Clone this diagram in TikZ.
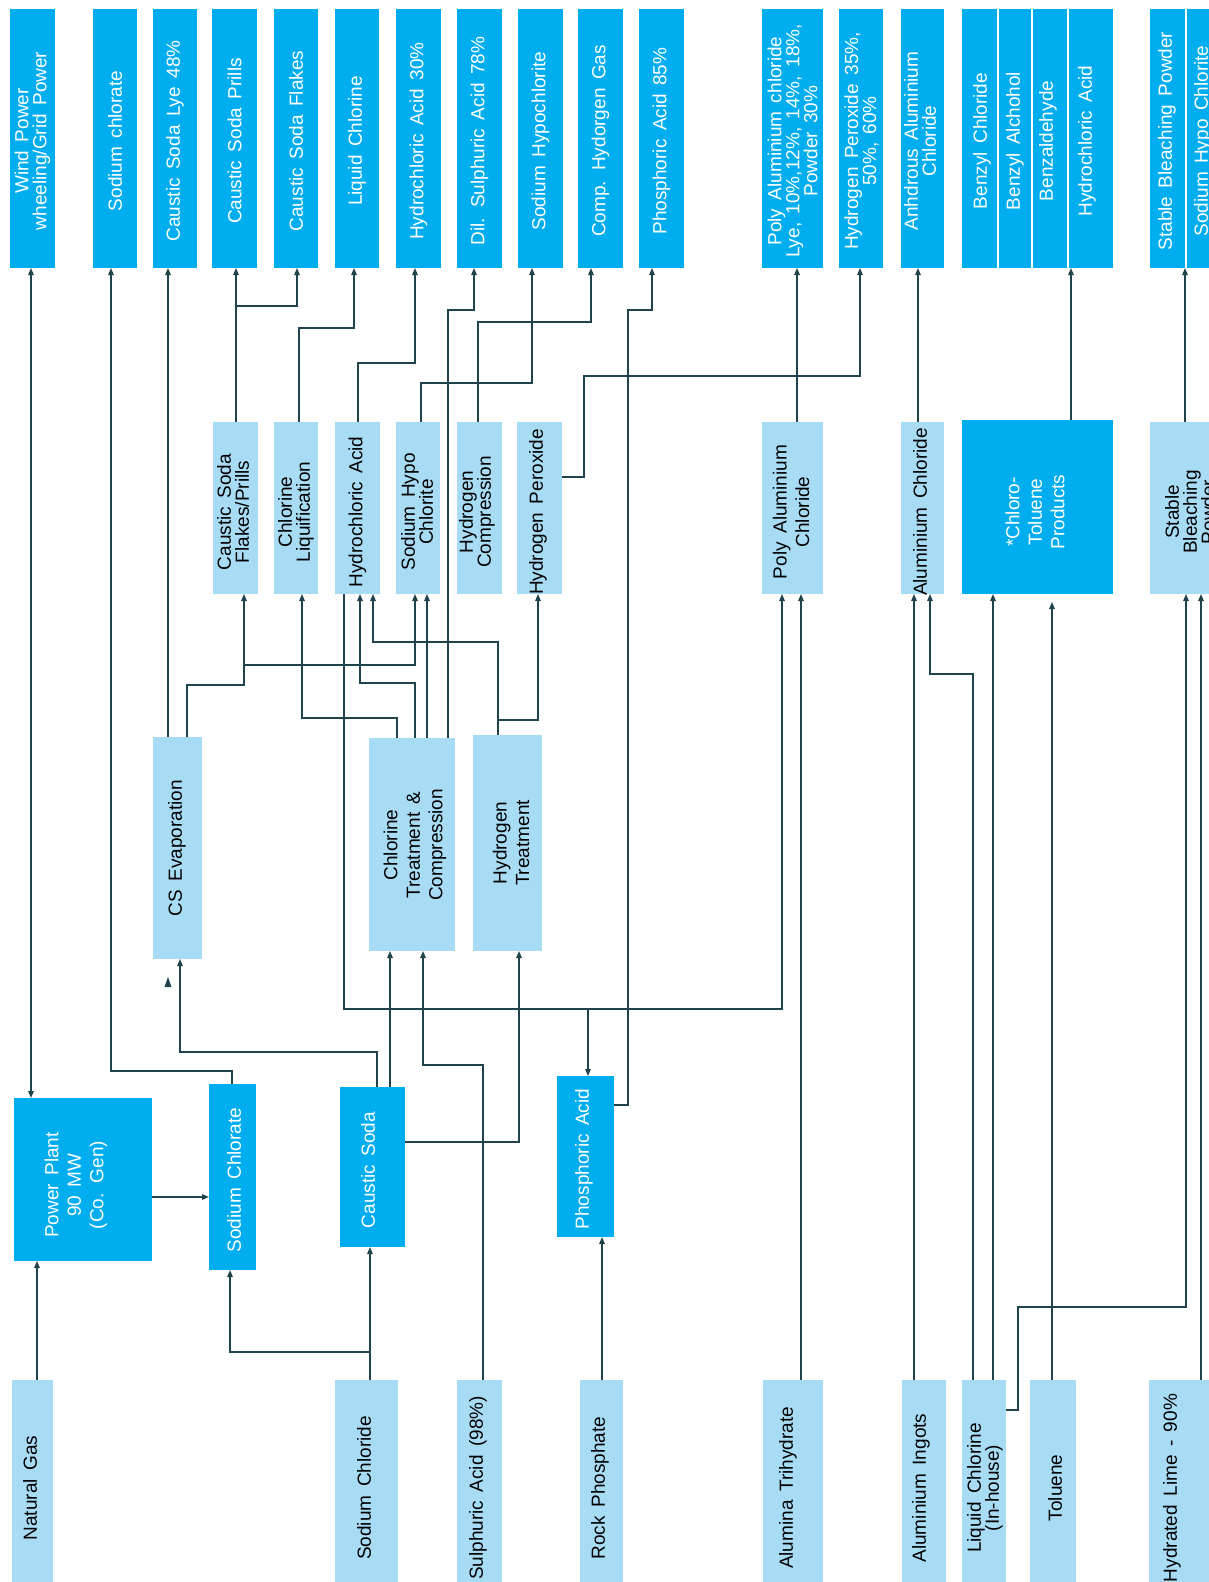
\documentclass[tikz,border=0pt]{standalone}
\usepackage{fontspec}
\setmainfont{Liberation Sans}[WordSpace=1.6]
\usetikzlibrary{arrows.meta,fit,calc}
\definecolor{dblue}{RGB}{0,174,239}
\definecolor{lblue}{RGB}{168,220,245}
\definecolor{linec}{RGB}{32,68,78}
\tikzset{
 box/.style={inner sep=0pt, outer sep=0pt, draw=none},
 dbox/.style={box, fill=dblue},
 lbox/.style={box, fill=lblue},
 wtxt/.style={rotate=90, text=white, align=center, font=\fontsize{19}{18}\selectfont, inner sep=0pt},
 btxt/.style={rotate=90, text=black, align=center, font=\fontsize{19}{18}\selectfont, inner sep=0pt},
 loose/.style={font=\fontsize{19}{22.5}\selectfont},
 conn/.style={draw=linec, line width=1.4pt},
 arr/.style={conn, -{Triangle[length=7pt,width=5.5pt]}},
 darr/.style={conn, {Triangle[length=7pt,width=5.5pt]}-{Triangle[length=7pt,width=5.5pt]}},
}
\newcommand\BX[9]{\node[#2, fit={(#3,#4) (#5,#6)}] (#1) {};\node[#7] at (#8) {#9};}
\begin{document}
\begin{tikzpicture}[x=1pt,y=-1pt]
\clip (0,0) rectangle (1209,1582);
\fill[white] (0,0) rectangle (1209,1582);
% top row
\BX{tWind}{dbox}{10}{9}{55}{268}{wtxt}{32.5,141}{Wind Power\\wheeling/Grid Power}
\BX{tNaClO}{dbox}{93}{9}{137}{268}{wtxt}{115,141}{Sodium chlorate}
\BX{tLye}{dbox}{153}{9}{197}{268}{wtxt}{175,141}{Caustic Soda Lye 48\%}
\BX{tPrl}{dbox}{212}{9}{257}{268}{wtxt}{234.5,141}{Caustic Soda Prills}
\BX{tFlk}{dbox}{274}{9}{318}{268}{wtxt}{296,141}{Caustic Soda Flakes}
\BX{tLCl}{dbox}{335}{9}{379}{268}{wtxt}{357,141}{Liquid Chlorine}
\BX{tHCl}{dbox}{396}{9}{441}{268}{wtxt}{418.5,141}{Hydrochloric Acid 30\%}
\BX{tDSA}{dbox}{457}{9}{502}{268}{wtxt}{479.5,141}{Dil. Sulphuric Acid 78\%}
\BX{tSHC}{dbox}{518}{9}{563}{268}{wtxt}{540.5,141}{Sodium Hypochlorite}
\BX{tCHG}{dbox}{578}{9}{623}{268}{wtxt}{600.5,141}{Comp. Hydorgen Gas}
\BX{tPA}{dbox}{639}{9}{684}{268}{wtxt}{661.5,141}{Phosphoric Acid 85\%}
\BX{tPAC}{dbox}{762}{9}{823}{268}{wtxt}{792.5,141}{Poly Aluminium chloride\\Lye, 10\%,12\%, 14\%, 18\%,\\Powder 30\%}
\BX{tHP}{dbox}{839}{9}{883}{268}{wtxt}{861.5,141}{Hydrogen Peroxide 35\%,\\50\%, 60\%}
\BX{tAAC}{dbox}{901}{9}{944}{268}{wtxt}{920,141}{Anhdrous Aluminium\\Chloride}
\BX{tBC}{dbox}{962}{9}{998}{268}{wtxt}{982,141}{Benzyl Chloride}
\BX{tBA}{dbox}{998}{9}{1032}{268}{wtxt}{1015,141}{Benzyl Alchohol}
\BX{tBZ}{dbox}{1032}{9}{1068}{268}{wtxt}{1048,141}{Benzaldehyde}
\BX{tHA}{dbox}{1068}{9}{1113}{268}{wtxt}{1087,141}{Hydrochloric Acid}
\BX{tSBP}{dbox}{1150}{9}{1186}{268}{wtxt}{1167,141}{Stable Bleaching Powder}
\BX{tSHY}{dbox}{1186}{9}{1222}{268}{wtxt}{1203,141}{Sodium Hypo Chlorite}
\foreach \xx in {998,1032,1068,1186} \draw[white, line width=1.5pt] (\xx,9) -- (\xx,268);
% middle row A
\BX{mFP}{lbox}{213}{422}{258}{594}{btxt}{233,512}{Caustic Soda\\Flakes/Prills}
\BX{mCLq}{lbox}{274}{422}{318}{594}{btxt}{296,512}{Chlorine\\Liquification}
\BX{mHCl}{lbox}{335}{422}{380}{594}{btxt}{357.5,512}{Hydrochloric Acid}
\BX{mSHC}{lbox}{396}{422}{440}{594}{btxt}{417,512}{Sodium Hypo\\Chlorite}
\BX{mH2C}{lbox}{457}{422}{502}{594}{btxt}{477,512}{Hydrogen\\Compression}
\BX{mHP}{lbox}{517}{422}{562}{594}{btxt}{538,512}{Hydrogen Peroxide}
\BX{mPAC}{lbox}{762}{422}{823}{594}{btxt,loose}{791,512}{Poly Aluminium\\Chloride}
\BX{mAC}{lbox}{901}{422}{944}{594}{btxt}{920,512}{Aluminium Chloride}
\BX{mCT}{dbox}{962}{420}{1113}{594}{wtxt,loose}{1035,512}{*Chloro-\\Toluene\\Products}
\BX{mSBP}{lbox}{1150}{422}{1232}{594}{btxt}{1190,512}{Stable\\Bleaching\\Powder}
% middle row B
\BX{mCSE}{lbox}{153}{737}{202}{959}{btxt}{177,848}{CS Evaporation}
\BX{mCTC}{lbox}{369}{738}{455}{951}{btxt,loose}{415,845}{Chlorine\\Treatment \&\\Compression}
\BX{mHT}{lbox}{473}{735}{542}{951}{btxt,loose}{511,843}{Hydrogen\\Treatment}
% third row
\BX{dPP}{dbox}{14}{1098}{152}{1261}{wtxt,loose}{76,1185}{Power Plant\\90 MW\\(Co. Gen)}
\BX{dSC}{dbox}{209}{1084}{256}{1270}{wtxt}{234,1180}{Sodium Chlorate}
\BX{dCS}{dbox}{340}{1087}{405}{1247}{wtxt}{368,1170}{Caustic Soda}
\BX{dPA}{dbox}{557}{1076}{614}{1237}{wtxt}{584,1159}{Phosphoric Acid}
% bottom row
\BX{bNG}{lbox}{12}{1380}{53}{1600}{btxt}{30,1488}{Natural Gas}
\BX{bNaCl}{lbox}{335}{1380}{398}{1600}{btxt}{364,1488}{Sodium Chloride}
\BX{bSA}{lbox}{457}{1380}{502}{1600}{btxt}{478,1488}{Sulphuric Acid (98\%)}
\BX{bRP}{lbox}{580}{1380}{623}{1600}{btxt}{600,1488}{Rock Phosphate}
\BX{bAT}{lbox}{763}{1380}{823}{1600}{btxt}{788,1488}{Alumina Trihydrate}
\BX{bAI}{lbox}{902}{1380}{946}{1600}{btxt}{921,1488}{Aluminium Ingots}
\BX{bLC}{lbox}{962}{1380}{1006}{1600}{btxt}{985,1488}{Liquid Chlorine\\(In-house)}
\BX{bTol}{lbox}{1030}{1380}{1076}{1600}{btxt}{1055,1488}{Toluene}
\BX{bHL}{lbox}{1149}{1380}{1215}{1600}{btxt}{1172,1488}{Hydrated Lime - 90\%}
% connectors
\draw[arr] (37,0 |- bNG.north) -- (37,0 |- dPP.south);
\draw[darr] (31,0 |- dPP.north) -- (31,0 |- tWind.south);
\draw[arr] (dPP.east |- 0,1197) -- (dSC.west |- 0,1197);
\draw[arr] (370,0 |- bNaCl.north) -- (370,1352) -- (230,1352) -- (230,0 |- dSC.south);
\draw[arr] (370,1352) -- (370,0 |- dCS.south);
\draw[arr] (232,0 |- dSC.north) -- (232,1071) -- (111,1071) -- (111,0 |- tNaClO.south);
\draw[arr] (377,0 |- dCS.north) -- (377,1052) -- (180,1052) -- (180,0 |- mCSE.south);
\fill[linec] (164.5,987) -- (171.5,987) -- (168,977) -- cycle;
\draw[arr] (168,0 |- mCSE.north) -- (168,0 |- tLye.south);
\draw[arr] (187,0 |- mCSE.north) -- (187,685) -- (244,685) -- (244,0 |- mFP.south);
\draw[arr] (244,665) -- (415,665) -- (415,0 |- mSHC.south);
\draw[arr] (236,0 |- mFP.north) -- (236,0 |- tPrl.south);
\draw[arr] (236,306) -- (297,306) -- (297,0 |- tFlk.south);
\draw[arr] (299,0 |- mCLq.north) -- (299,328) -- (354,328) -- (354,0 |- tLCl.south);
\draw[arr] (358,0 |- mHCl.north) -- (358,363) -- (415,363) -- (415,0 |- tHCl.south);
\draw[arr] (448,0 |- mCTC.north) -- (448,310) -- (474,310) -- (474,0 |- tDSA.south);
\draw[arr] (421,0 |- mSHC.north) -- (421,383) -- (532,383) -- (532,0 |- tSHC.south);
\draw[arr] (478,0 |- mH2C.north) -- (478,322) -- (591,322) -- (591,0 |- tCHG.south);
\draw[arr] (dPA.east |- 0,1105) -- (628,1105) -- (628,310) -- (652,310) -- (652,0 |- tPA.south);
\draw[arr] (mHP.east |- 0,477) -- (584,477) -- (584,376) -- (860,376) -- (860,0 |- tHP.south);
\draw[arr] (797,0 |- mPAC.north) -- (797,0 |- tPAC.south);
\draw[arr] (918,0 |- mAC.north) -- (918,0 |- tAAC.south);
\draw[arr] (1071,0 |- mCT.north) -- (1071,0 |- tHA.south);
\draw[arr] (1185,0 |- mSBP.north) -- (1185,0 |- tSBP.south);
\draw[arr] (390,0 |- dCS.north) -- (390,0 |- mCTC.south);
\draw[arr] (344,0 |- mHCl.south) -- (344,1009) -- (782,1009) -- (782,0 |- mPAC.south);
\draw[arr] (588,1009) -- (588,0 |- dPA.north);
\draw[arr] (dCS.east |- 0,1142) -- (519,1142) -- (519,0 |- mHT.south);
\draw[arr] (483,0 |- bSA.north) -- (483,1065) -- (423,1065) -- (423,0 |- mCTC.south);
\draw[arr] (602,0 |- bRP.north) -- (602,0 |- dPA.south);
\draw[arr] (801,0 |- bAT.north) -- (801,0 |- mPAC.south);
\draw[arr] (914,0 |- bAI.north) -- (914,0 |- mAC.south);
\draw[arr] (973,0 |- bLC.north) -- (973,674) -- (930,674) -- (930,0 |- mAC.south);
\draw[arr] (993,0 |- bLC.north) -- (993,0 |- mCT.south);
\draw[arr, shorten >=8pt] (1052,0 |- bTol.north) -- (1052,0 |- mCT.south);
\draw[arr] (bLC.east |- 0,1410) -- (1018,1410) -- (1018,1307) -- (1186,1307) -- (1186,0 |- mSBP.south);
\draw[arr] (1201,0 |- bHL.north) -- (1201,0 |- mSBP.south);
\draw[arr] (397,0 |- mCTC.north) -- (397,718) -- (302,718) -- (302,0 |- mCLq.south);
\draw[arr] (415,0 |- mCTC.north) -- (415,683) -- (360,683) -- (360,0 |- mHCl.south);
\draw[arr] (427,0 |- mCTC.north) -- (427,0 |- mSHC.south);
\draw[arr] (498,0 |- mHT.north) -- (498,642) -- (373,642) -- (373,0 |- mHCl.south);
\draw[arr] (498,720) -- (538,720) -- (538,0 |- mHP.south);
\end{tikzpicture}
\end{document}
